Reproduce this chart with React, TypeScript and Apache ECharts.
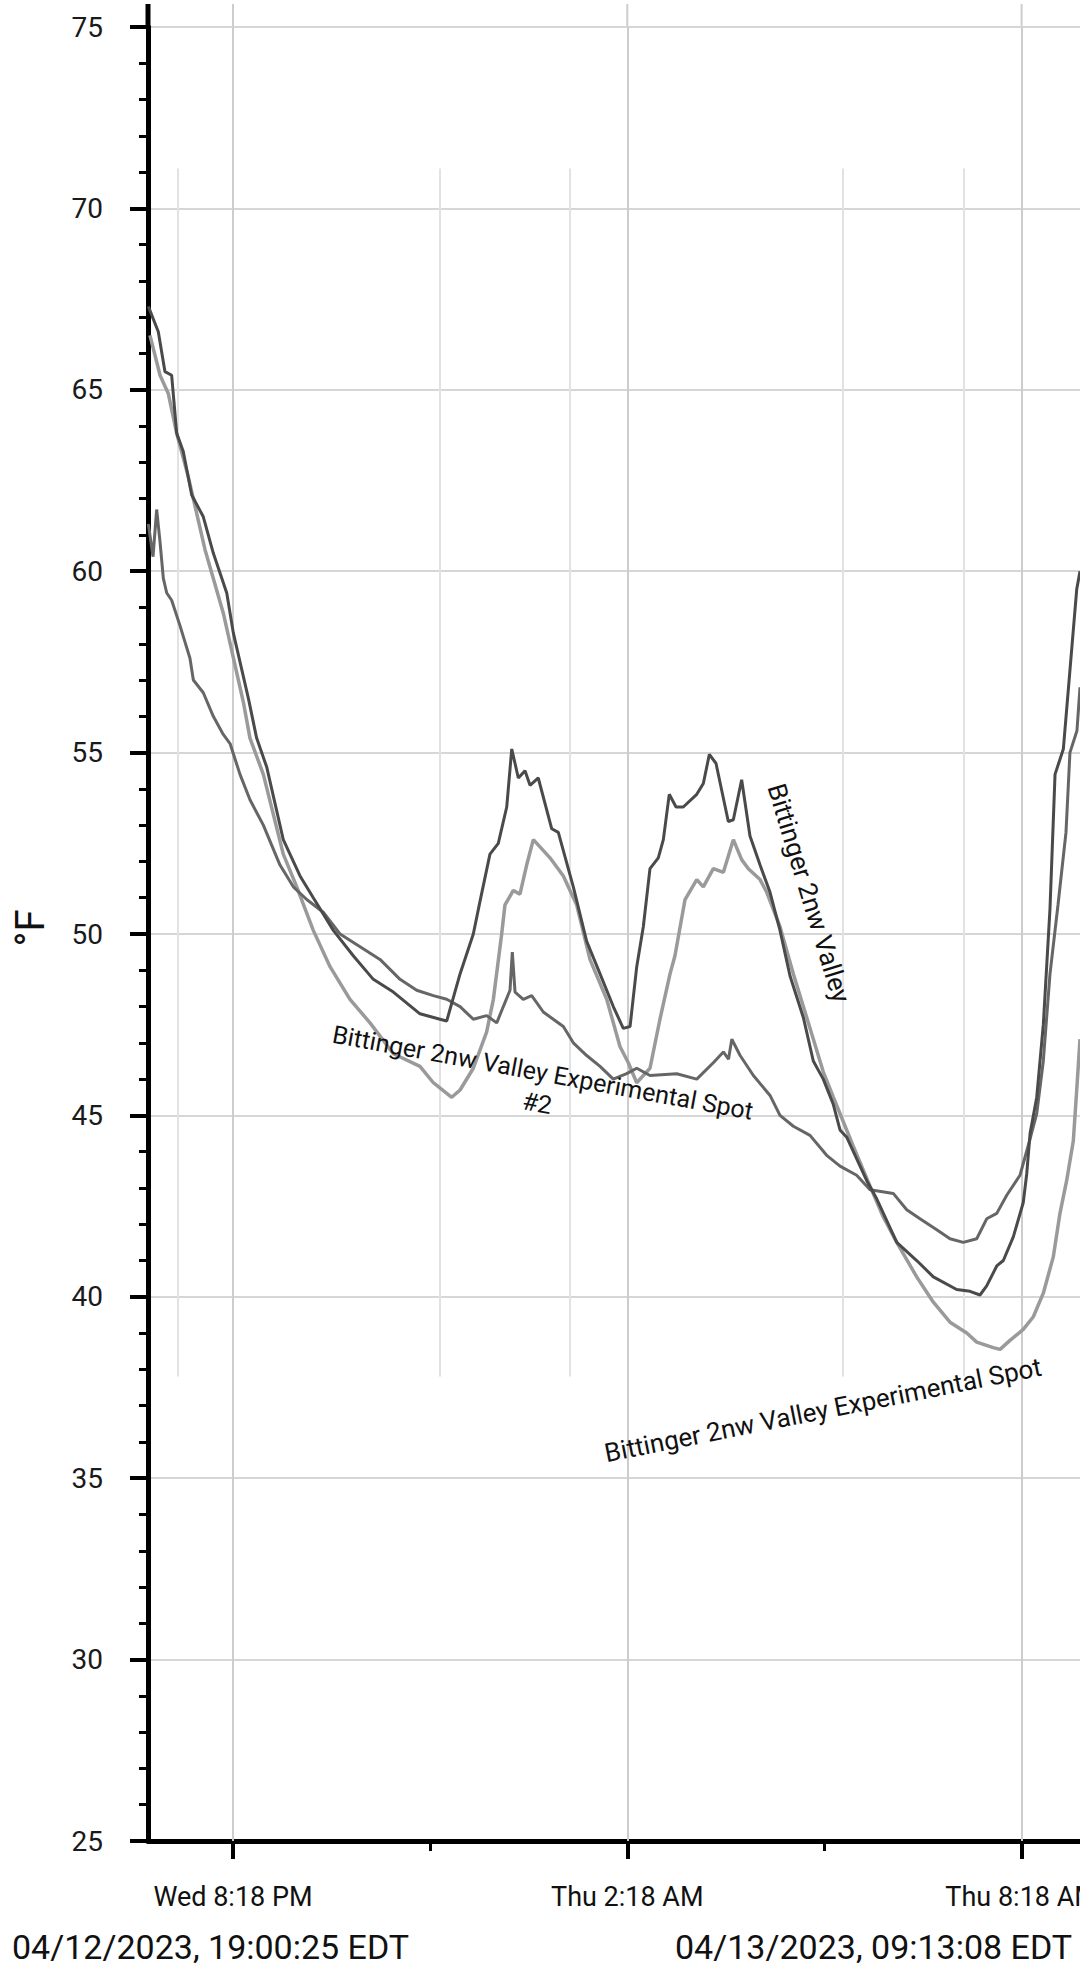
import React, { useEffect, useRef } from 'react';
import * as echarts from 'echarts';

// Time axis is in minutes since the first reading (04/12/2023 19:00:25 EDT)
const START_LABEL = '04/12/2023, 19:00:25 EDT';
const END_LABEL = '04/13/2023, 09:13:08 EDT';
const X_MAX = 852.72; // 14 h 12 min 43 s

const majorTickMinutes = [77.58, 437.58, 797.58];
const majorTickLabels = ['Wed 8:18 PM', 'Thu 2:18 AM', 'Thu 8:18 AM'];
const minorTickMinutes = [257.58, 617.58];
const extraGridMinutes = [27.4, 266.6, 385.3, 634.5, 745.0];
const extraGridRange = [37.8, 71.1];

const Y_MIN = 25;
const Y_MAX = 75;
const Y_STEP = 5;

const seriesNames = [
  'Bittinger 2nw Valley',
  'Bittinger 2nw Valley Experimental Spot',
  'Bittinger 2nw Valley Experimental Spot #2',
];

const valley: [number, number][] = [
  [0.3, 67.3], [9.4, 66.6], [15.5, 65.5], [21.6, 65.4], [26.2, 63.8], [32.2, 63.3], [39.9, 62.1],
  [50.5, 61.5], [59.6, 60.5], [71.9, 59.4], [77.9, 58.3], [91.6, 56.5], [99.2, 55.4], [108.4, 54.6],
  [123.5, 52.6], [138.8, 51.6], [150.9, 51.0], [169.2, 50.1], [187.4, 49.4], [205.7, 48.75],
  [224.0, 48.4], [248.3, 47.8], [266.6, 47.65], [272.7, 47.6], [284.9, 48.9], [297.0, 50.0],
  [303.1, 50.9], [312.2, 52.2], [319.8, 52.5], [327.5, 53.5], [332.1, 55.1], [338.1, 54.3],
  [344.2, 54.5], [348.8, 54.1], [356.3, 54.3], [368.6, 52.9], [374.6, 52.8], [388.3, 51.3],
  [400.5, 49.8], [412.7, 48.9], [424.8, 48.0], [433.9, 47.4], [440.1, 47.45], [446.2, 49.1],
  [452.2, 50.2], [458.3, 51.8], [465.9, 52.1], [470.5, 52.6], [475.9, 53.85], [482.1, 53.5],
  [488.7, 53.5], [501.0, 53.85], [507.0, 54.15], [512.5, 54.95], [518.6, 54.7], [529.8, 53.1],
  [534.4, 53.15], [542.0, 54.25], [549.6, 52.7], [558.8, 51.9], [567.9, 51.15], [577.0, 50.1],
  [586.1, 48.85], [598.3, 47.7], [607.4, 46.5], [616.5, 46.0], [625.7, 45.3], [631.8, 44.6],
  [637.9, 44.4], [656.2, 43.2], [665.3, 42.7], [683.6, 41.5], [701.8, 41.0], [717.0, 40.55],
  [738.3, 40.2], [750.5, 40.15], [759.6, 40.05], [765.7, 40.3], [774.9, 40.85], [780.9, 41.0],
  [790.0, 41.65], [799.1, 42.6], [802.3, 43.4], [805.3, 44.5], [811.4, 45.5], [817.4, 47.5],
  [823.5, 50.7], [828.1, 54.4], [835.7, 55.1], [847.9, 59.5], [850.9, 60.0],
];

const experimental: [number, number][] = [
  [1.8, 66.5], [11.0, 65.4], [18.5, 64.9], [26.2, 63.8], [36.8, 62.6], [52.0, 60.6], [68.7, 58.85],
  [87.0, 56.4], [93.1, 55.4], [105.3, 54.4], [123.5, 52.2], [135.8, 51.3], [150.9, 50.1],
  [166.2, 49.1], [184.4, 48.2], [202.7, 47.55], [224.0, 46.7], [248.3, 46.35], [260.5, 45.9],
  [277.3, 45.5], [284.9, 45.7], [297.0, 46.3], [309.2, 47.3], [315.3, 48.2], [322.9, 50.0],
  [325.9, 50.8], [333.5, 51.2], [339.6, 51.1], [345.7, 51.9], [351.8, 52.6], [357.9, 52.4],
  [367.0, 52.1], [379.2, 51.6], [391.4, 50.8], [403.5, 49.3], [418.8, 48.2], [430.9, 46.9],
  [438.5, 46.45], [446.2, 45.9], [458.3, 46.3], [467.4, 47.65], [476.6, 48.9], [481.1, 49.4],
  [490.3, 50.95], [501.0, 51.5], [507.0, 51.3], [516.1, 51.8], [525.3, 51.7], [534.4, 52.6],
  [542.0, 52.05], [548.1, 51.8], [558.8, 51.5], [564.9, 51.15], [577.0, 50.2], [589.2, 48.9],
  [601.4, 47.7], [616.5, 46.2], [625.7, 45.5], [643.9, 44.15], [659.2, 43.05], [671.3, 42.2],
  [683.6, 41.5], [701.8, 40.55], [717.0, 39.85], [732.2, 39.3], [747.5, 39.0], [756.6, 38.75],
  [771.7, 38.6], [777.9, 38.55], [787.0, 38.8], [799.1, 39.1], [808.3, 39.45], [817.4, 40.1],
  [826.5, 41.1], [832.6, 42.3], [838.7, 43.2], [844.8, 44.3], [847.9, 45.7], [850.9, 47.1],
];

const experimental2: [number, number][] = [
  [0.3, 61.3], [4.6, 60.4], [7.9, 61.7], [11.0, 60.8], [14.0, 59.8], [17.1, 59.4], [21.6, 59.2],
  [29.2, 58.5], [38.3, 57.6], [41.4, 57.0], [50.5, 56.65], [59.6, 56.0], [68.7, 55.5], [74.9, 55.25],
  [84.0, 54.4], [93.1, 53.7], [105.3, 53.0], [120.5, 51.9], [132.7, 51.3], [144.9, 50.95],
  [160.0, 50.6], [175.3, 50.0], [193.6, 49.65], [211.8, 49.3], [230.1, 48.75], [245.3, 48.45],
  [260.5, 48.3], [272.7, 48.2], [284.9, 48.0], [297.0, 47.65], [309.2, 47.75], [318.4, 47.55],
  [324.4, 48.0], [330.5, 48.45], [332.6, 49.5], [335.1, 48.4], [342.6, 48.2], [350.3, 48.3],
  [360.9, 47.85], [370.0, 47.65], [379.2, 47.45], [388.3, 47.0], [400.5, 46.65], [412.7, 46.35],
  [424.8, 46.0], [437.0, 46.15], [446.2, 46.3], [458.3, 46.1], [482.7, 46.15], [501.0, 46.0],
  [516.1, 46.45], [525.3, 46.75], [530.0, 46.55], [533.0, 47.1], [540.6, 46.65], [552.7, 46.1],
  [567.9, 45.55], [577.0, 45.0], [589.2, 44.7], [604.4, 44.45], [619.6, 43.9], [631.8, 43.6],
  [647.0, 43.35], [659.2, 42.95], [680.4, 42.85], [692.7, 42.4], [704.8, 42.15], [720.1, 41.85],
  [732.2, 41.6], [744.3, 41.5], [756.6, 41.6], [765.7, 42.15], [774.9, 42.3], [784.0, 42.8],
  [796.1, 43.35], [805.3, 44.35], [811.4, 45.05], [817.4, 46.5], [823.5, 48.9], [830.8, 50.8],
  [838.1, 52.8], [841.7, 55.0], [848.1, 55.6], [850.9, 56.8],
];

const FONT = 'Roboto';

function textEl(id: string, text: string, x: number, y: number, rotation: number, fontSize: number, align = 'center', lineHeight?: number) {
  return {
    type: 'text',
    id,
    x,
    y,
    rotation,
    silent: true,
    z: 50,
    style: {
      text,
      fontSize,
      fontFamily: FONT,
      fill: '#111',
      align,
      verticalAlign: 'middle',
      textAlign: align,
      textVerticalAlign: 'middle',
      lineHeight: lineHeight || Math.round(fontSize * 1.2),
    },
  };
}

export default function App() {
  const ref = useRef<HTMLDivElement>(null);

  useEffect(() => {
    if (!ref.current) return;
    const chart = echarts.init(ref.current, undefined, { renderer: 'svg' });

    const xLabelFormatter = (v: number) => {
      const i = majorTickMinutes.findIndex((t) => Math.abs(t - v) < 0.01);
      return i >= 0 ? majorTickLabels[i] : '';
    };

    const baseLine = (name: string, data: [number, number][], color: string, width: number, z: number) => ({
      name,
      type: 'line',
      data,
      showSymbol: false,
      symbol: 'none',
      z,
      lineStyle: { color, width },
      itemStyle: { color },
      silent: true,
    });

    const option: any = {
      animation: false,
      backgroundColor: '#ffffff',
      textStyle: { fontFamily: FONT },
      grid: {
        left: 148,
        top: 27,
        width: 934,
        height: 1814,
        containLabel: false,
        outerBoundsMode: 'none',
      },
      xAxis: [
        {
          type: 'value',
          min: 0,
          max: X_MAX,
          position: 'bottom',
          axisLine: { show: true, onZero: false, lineStyle: { color: '#000', width: 5 } },
          axisTick: { show: true, customValues: majorTickMinutes, length: 18, lineStyle: { color: '#000', width: 4 } },
          axisLabel: {
            show: true,
            customValues: majorTickMinutes,
            formatter: xLabelFormatter,
            margin: 42,
            fontSize: 27,
            color: '#111',
            fontFamily: FONT,
          },
          splitLine: { show: false },
        },
        {
          type: 'value',
          min: 0,
          max: X_MAX,
          position: 'bottom',
          axisLine: { show: false, onZero: false },
          axisTick: { show: true, customValues: minorTickMinutes, length: 10, lineStyle: { color: '#000', width: 3 } },
          axisLabel: { show: false },
          splitLine: { show: false },
        },
      ],
      yAxis: {
        type: 'value',
        min: Y_MIN,
        max: Y_MAX,
        interval: Y_STEP,
        axisLine: { show: true, onZero: false, lineStyle: { color: '#000', width: 5 } },
        axisTick: { show: true, length: 18, lineStyle: { color: '#000', width: 4 } },
        minorTick: { show: true, splitNumber: 5, length: 9, lineStyle: { color: '#000', width: 3 } },
        splitLine: { show: true, lineStyle: { color: '#d6d6d6', width: 2 } },
        minorSplitLine: { show: false },
        axisLabel: { fontSize: 28, color: '#1a1a1a', margin: 45, fontFamily: FONT },
      },
      series: [
        {
          ...baseLine(seriesNames[1], experimental, '#9a9a9a', 3.5, 2),
          markLine: {
            silent: true,
            z: 1,
            symbol: ['none', 'none'],
            label: { show: false },
            lineStyle: { color: '#cdcdcd', width: 2, type: 'solid' },
            data: majorTickMinutes.map((t) => ({ xAxis: t })),
          },
        },
        {
          ...baseLine(seriesNames[2], experimental2, '#666666', 3, 3),
          markLine: {
            silent: true,
            z: 1,
            symbol: ['none', 'none'],
            label: { show: false },
            lineStyle: { color: '#e2e2e2', width: 2, type: 'solid' },
            data: extraGridMinutes.map((t) => [
              { coord: [t, extraGridRange[1]] },
              { coord: [t, extraGridRange[0]] },
            ]),
          },
        },
        baseLine(seriesNames[0], valley, '#4a4a4a', 3, 4),
      ],
      graphic: [
        textEl('degF', '°F', 30, 928, Math.PI / 2, 40),
        textEl('lblValley', seriesNames[0], 809, 893, -1.274, 26),
        textEl('lblSpot2', 'Bittinger 2nw Valley Experimental Spot\n#2', 540, 1088, -0.182, 25, 'center', 31),
        textEl('lblSpot', seriesNames[1], 823, 1410, 0.196, 26),
        textEl('startLbl', START_LABEL, 12, 1947, 0, 34, 'left'),
        textEl('endLbl', END_LABEL, 675, 1947, 0, 34, 'left'),
      ],
    };

    chart.setOption(option);

    // extend axis line and major vertical grid lines slightly above the top value
    const yTop = chart.convertToPixel({ yAxisIndex: 0 }, Y_MAX) as number;
    const xLeft = chart.convertToPixel({ xAxisIndex: 0 }, 0) as number;
    const ext: any[] = [
      {
        type: 'line',
        id: 'axisExt',
        silent: true,
        z: 40,
        shape: { x1: xLeft, y1: 4, x2: xLeft, y2: yTop + 1 },
        style: { stroke: '#000', lineWidth: 5 },
      },
    ];
    majorTickMinutes.forEach((t, i) => {
      const px = chart.convertToPixel({ xAxisIndex: 0 }, t) as number;
      ext.push({
        type: 'line',
        id: 'gridExt' + i,
        silent: true,
        z: 0,
        shape: { x1: px, y1: 4, x2: px, y2: yTop },
        style: { stroke: '#cdcdcd', lineWidth: 2 },
      });
    });
    chart.setOption({ graphic: ext });

    return () => {
      chart.dispose();
    };
  }, []);

  return (
    <div
      ref={ref}
      style={{ position: 'absolute', left: 0, top: 0, width: 1080, height: 1969, background: '#fff' }}
    />
  );
}
